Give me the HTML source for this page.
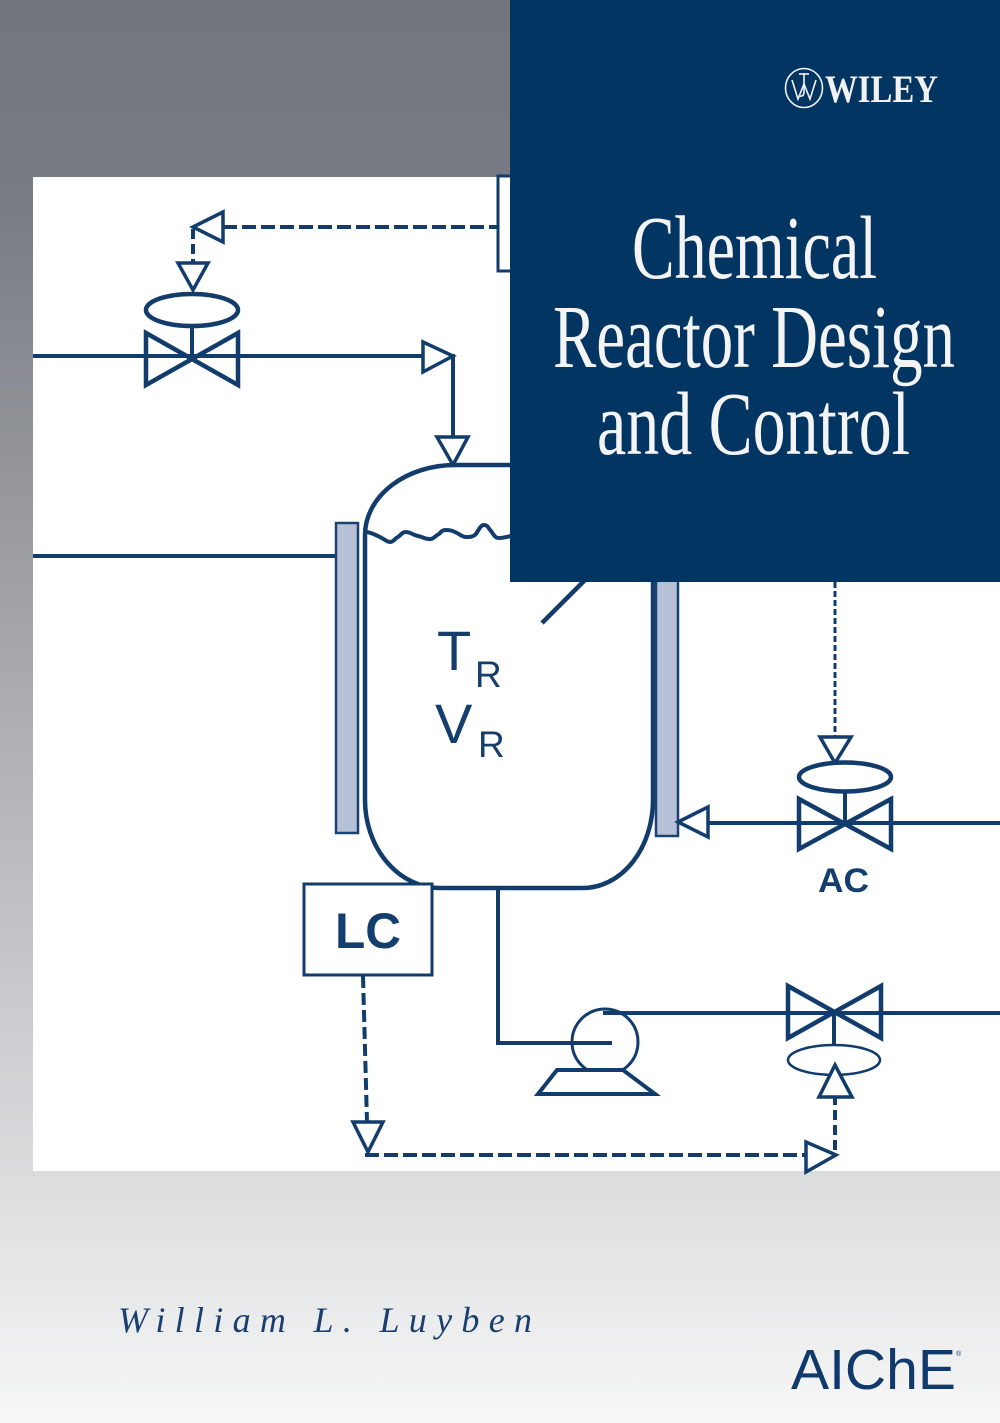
<!DOCTYPE html>
<html>
<head>
<meta charset="utf-8">
<style>
html,body{margin:0;padding:0;}
body{width:1000px;height:1423px;overflow:hidden;}
svg{display:block;}
</style>
</head>
<body>
<svg width="1000" height="1423" viewBox="0 0 1000 1423" xmlns="http://www.w3.org/2000/svg">
<defs>
<linearGradient id="bg" x1="0" y1="0" x2="0" y2="1">
<stop offset="0" stop-color="#72767f"/>
<stop offset="0.125" stop-color="#767a82"/>
<stop offset="0.39" stop-color="#9c9ea2"/>
<stop offset="0.82" stop-color="#d9dbdd"/>
<stop offset="1" stop-color="#f7f7f7"/>
</linearGradient>
</defs>
<rect x="0" y="0" width="1000" height="1423" fill="url(#bg)"/>
<!-- white diagram area -->
<rect x="33" y="177" width="967" height="994" fill="#ffffff"/>

<g fill="none" stroke="#123c6c" stroke-linejoin="miter">
  <!-- top controller box (partly hidden) -->
  <rect x="498" y="176" width="40" height="95" stroke-width="3" fill="#fff"/>
  <!-- dashed signal top -->
  <path d="M223,227 H497" stroke-width="4" stroke-dasharray="14 5"/>
  <path d="M193,229 V263" stroke-width="4" stroke-dasharray="10 5"/>
  <polygon points="193,227 223,212 223,242" stroke-width="3.5" fill="#fff"/>
  <polygon points="178,263 208,263 193,290" stroke-width="3.5" fill="#fff"/>
  <!-- top valve -->
  <ellipse cx="192" cy="310" rx="46" ry="16" stroke-width="4.5" fill="#fff"/>
  <path d="M192,326 V356" stroke-width="4"/>
  <!-- feed line -->
  <path d="M33,356 H453 V437" stroke-width="4"/>
  <path d="M146,333 L238,385 L238,333 L146,385 Z" stroke-width="4.5" fill="#fff"/>
  <path d="M146,356 H238" stroke-width="4"/>
  <polygon points="423,342 423,372 453,356" stroke-width="3.5" fill="#fff"/>
  <polygon points="437,437 468,437 453,465" stroke-width="3.5" fill="#fff"/>

  <!-- left jacket pipe -->
  <path d="M33,556 H342" stroke-width="4"/>

  <!-- vessel -->
  <path d="M455,465 H560 A93 70 0 0 1 653,535 V800 A70 88 0 0 1 583,888 H440 A75 88 0 0 1 365,800 V535 A90 70 0 0 1 455,465 Z" stroke-width="4.5" fill="#fff"/>
  <!-- liquid level -->
  <path d="M367,532 C372,533 376,535 380,537 C384,539 387,542 390,542 C394,542 395,538 398,537 C401,535 402,532 406,532 C410,532 413,535 418,536 C423,537 427,540 431,539 C435,538 436,535 439,534 C441,532 442,530 446,530 C451,530 453,531 457,533 C461,535 462,537 466,537 C470,537 472,537 475,535 C478,532 480,525 484,525 C488,525 488,528 491,531 C494,535 495,538 499,538 C503,538 506,537 511,536" stroke-width="4"/>
  <!-- jackets -->
  <rect x="336" y="523" width="22" height="310" fill="#b7c1d6" stroke="#1b4272" stroke-width="2.5"/>
  <rect x="656" y="540" width="22" height="296" fill="#b7c1d6" stroke="#1b4272" stroke-width="2.5"/>
  <!-- diagonal -->
  <path d="M542,623 L585,580" stroke-width="4.5"/>

  <!-- AC loop -->
  <path d="M835,582 V737" stroke-width="3" stroke-dasharray="6 3"/>
  <polygon points="820,737 851,737 835,763" stroke-width="3.5" fill="#fff"/>
  <ellipse cx="845" cy="777" rx="46" ry="14.5" stroke-width="4.5" fill="#fff"/>
  <path d="M845,792 V823" stroke-width="4"/>
  <path d="M708,823 H1000" stroke-width="4"/>
  <path d="M799,799 L891,849 L891,799 L799,849 Z" stroke-width="4.5" fill="#fff"/>
  <path d="M799,823 H891" stroke-width="4"/>
  <polygon points="678,822 708,807 708,837" stroke-width="3.5" fill="#fff"/>

  <!-- LC box -->
  <rect x="304" y="884" width="128" height="91" stroke-width="3" fill="#fff"/>

  <!-- vessel outlet to pump -->
  <path d="M498,888 V1043 H612" stroke-width="4"/>
  <!-- pump -->
  <circle cx="605" cy="1042" r="33" stroke-width="3" fill="none"/>
  <path d="M498,1043 H612" stroke-width="4"/>
  <path d="M557,1070 L623,1070 L655,1094 L538,1094 Z" stroke-width="4" fill="#fff"/>
  <path d="M603,1013 H1000" stroke-width="4"/>
  <!-- bottom valve -->
  <path d="M788,986 L881,1038 L881,986 L788,1038 Z" stroke-width="4.5" fill="#fff"/>
  <path d="M788,1013 H881" stroke-width="4"/>
  <path d="M834,1013 V1045" stroke-width="4"/>
  <ellipse cx="834" cy="1060" rx="46" ry="15" stroke-width="2.5" fill="#fff"/>
  <path d="M835,1150 V1097" stroke-width="4" stroke-dasharray="10 5"/>
  <polygon points="819,1097 852,1097 835,1065" stroke-width="3.5" fill="#fff"/>
  <!-- LC signal -->
  <path d="M363,976 L367,1122" stroke-width="4" stroke-dasharray="12 5"/>
  <polygon points="353,1122 383,1122 368,1152" stroke-width="3.5" fill="#fff"/>
  <path d="M365,1155 H806" stroke-width="4" stroke-dasharray="14 5"/>
  <polygon points="806,1142 806,1172 836,1155" stroke-width="3.5" fill="#fff"/>
</g>

<!-- diagram labels -->
<g fill="#143e6e" font-family="'Liberation Sans', Arial, sans-serif">
  <text x="437" y="670" font-size="56">T</text>
  <text x="475" y="687" font-size="37">R</text>
  <text x="435" y="743" font-size="56">V</text>
  <text x="478" y="757" font-size="37">R</text>
  <text x="335" y="948" font-size="50" font-weight="bold" textLength="66" lengthAdjust="spacingAndGlyphs">LC</text>
  <text x="818" y="892" font-size="34" font-weight="bold" textLength="51" lengthAdjust="spacingAndGlyphs">AC</text>
</g>

<!-- blue title box -->
<rect x="510" y="0" width="490" height="582" fill="#033562"/>
<!-- Wiley emblem -->
<g stroke="#f2f2f2" fill="none" stroke-width="1.6">
  <ellipse cx="804" cy="88" rx="18.5" ry="19.5"/>
  <path d="M792,80 L798,99 L804,84 L810,99 L816,80"/>
  <path d="M804,73 V92 Q804,97 799,96"/>
  <path d="M799,74 H809"/>
</g>
<text x="825" y="102" font-family="'Liberation Serif', 'Times New Roman', serif" font-weight="bold" font-size="39" fill="#f2f2f2" textLength="113" lengthAdjust="spacingAndGlyphs">WILEY</text>

<g fill="#f4f4f4" font-family="'Liberation Serif', 'Times New Roman', serif" font-size="90">
  <text x="632" y="278" textLength="245" lengthAdjust="spacingAndGlyphs">Chemical</text>
  <text x="553" y="367" textLength="402" lengthAdjust="spacingAndGlyphs">Reactor Design</text>
  <text x="597" y="454" textLength="313" lengthAdjust="spacingAndGlyphs">and Control</text>
</g>

<!-- author -->
<text x="118" y="1332" font-family="'Liberation Serif', 'Times New Roman', serif" font-style="italic" font-size="36" fill="#1a3f6e" textLength="414" lengthAdjust="spacing">William L. Luyben</text>

<!-- AIChE -->
<text x="791" y="1389" font-family="'Liberation Sans', Arial, sans-serif" font-size="57" fill="#0f3a6b" textLength="165" lengthAdjust="spacingAndGlyphs">AIChE</text>
<text x="956" y="1356" font-family="'Liberation Sans', Arial, sans-serif" font-size="7" fill="#0f3a6b">®</text>
</svg>
</body>
</html>
